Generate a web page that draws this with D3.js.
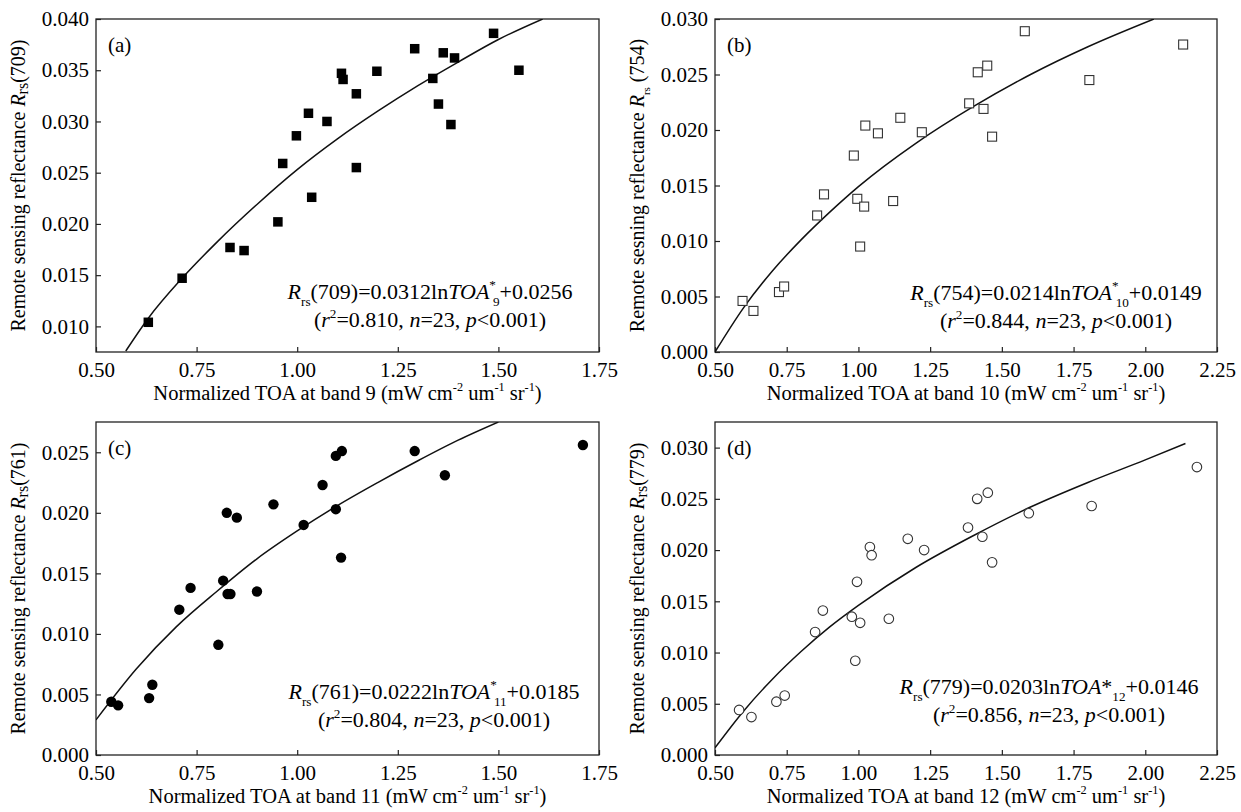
<!DOCTYPE html>
<html>
<head>
<meta charset="utf-8">
<script src="https://cdn.jsdelivr.net/npm/d3@7"></script>
<style>
  body { margin: 0; background: #fff; }
  svg { font-family: "Liberation Serif", "Times New Roman", serif; }
</style>
</head>
<body>
<svg id="chart" width="1241" height="812"></svg>
<script>

//  Panel (a): band 9 vs Rrs(709)
var xA = [0.630, 0.714, 0.833, 0.868, 0.952, 0.964, 0.998, 1.028, 1.036, 1.074, 1.110, 1.114,
          1.147, 1.147, 1.198, 1.292, 1.337, 1.351, 1.363, 1.382, 1.391, 1.488, 1.551];
var yA = [0.0104, 0.0147, 0.0177, 0.0174, 0.0202, 0.0259, 0.0286, 0.0308, 0.0226, 0.0300, 0.0347, 0.0341,
          0.0327, 0.0255, 0.0349, 0.0371, 0.0342, 0.0317, 0.0367, 0.0297, 0.0362, 0.0386, 0.0350];
var fitXA = [0.574, 0.63, 0.714, 0.80, 0.90, 1.00, 1.10, 1.20, 1.30, 1.40, 1.50, 1.61];
var fitYA = [0.0076, 0.0108, 0.0147, 0.0182, 0.0219, 0.0253, 0.0283, 0.0310, 0.0335, 0.0358, 0.0380, 0.0400];

//  Panel (b): band 10 vs Rrs(754)
var xB = [0.596, 0.634, 0.723, 0.741, 0.856, 0.880, 0.984, 0.996, 1.006, 1.020, 1.024, 1.068,
          1.121, 1.146, 1.221, 1.386, 1.416, 1.436, 1.449, 1.466, 1.580, 1.805, 2.132];
var yB = [0.0046, 0.0037, 0.0054, 0.0059, 0.0123, 0.0142, 0.0177, 0.0138, 0.0095, 0.0131, 0.0204, 0.0197,
          0.0136, 0.0211, 0.0198, 0.0224, 0.0252, 0.0219, 0.0258, 0.0194, 0.0289, 0.0245, 0.0277];
var fitXB = [0.50, 0.60, 0.70, 0.80, 0.90, 1.00, 1.20, 1.40, 1.60, 1.80, 2.03];
var fitYB = [0.0000, 0.0040, 0.0073, 0.0101, 0.0126, 0.0149, 0.0188, 0.0221, 0.0250, 0.0275, 0.0300];

//  Panel (c): band 11 vs Rrs(761)
var xC = [0.538, 0.555, 0.632, 0.640, 0.707, 0.735, 0.804, 0.816, 0.825, 0.827, 0.834, 0.850,
          0.900, 0.941, 1.016, 1.063, 1.096, 1.096, 1.109, 1.111, 1.292, 1.367, 1.710];
var yC = [0.0044, 0.0041, 0.0047, 0.0058, 0.0120, 0.0138, 0.0091, 0.0144, 0.0200, 0.0133, 0.0133, 0.0196,
          0.0135, 0.0207, 0.0190, 0.0223, 0.0203, 0.0247, 0.0163, 0.0251, 0.0251, 0.0231, 0.0256];
var fitXC = [0.50, 0.60, 0.70, 0.80, 0.90, 1.00, 1.10, 1.20, 1.30, 1.40, 1.50];
var fitYC = [0.0029, 0.0071, 0.0106, 0.0135, 0.0162, 0.0185, 0.0206, 0.0225, 0.0243, 0.0260, 0.0275];

//  Panel (d): band 12 vs Rrs(779)
var xD = [0.584, 0.627, 0.714, 0.743, 0.849, 0.876, 0.977, 0.989, 0.995, 1.006, 1.040, 1.046,
          1.106, 1.172, 1.229, 1.382, 1.414, 1.432, 1.451, 1.466, 1.594, 1.813, 2.180];
var yD = [0.0044, 0.0037, 0.0052, 0.0058, 0.0120, 0.0141, 0.0135, 0.0092, 0.0169, 0.0129, 0.0203, 0.0195,
          0.0133, 0.0211, 0.0200, 0.0222, 0.0250, 0.0213, 0.0256, 0.0188, 0.0236, 0.0243, 0.0281];
var fitXD = [0.50, 0.60, 0.70, 0.80, 0.90, 1.00, 1.20, 1.40, 1.60, 1.80, 2.00, 2.14];
var fitYD = [0.0007, 0.0043, 0.0074, 0.0101, 0.0125, 0.0146, 0.0183, 0.0214, 0.0242, 0.0266, 0.0288, 0.0304];

//  Tick values
var ticksX175 = [0.50, 0.75, 1.00, 1.25, 1.50, 1.75];
var ticksX225 = [0.50, 0.75, 1.00, 1.25, 1.50, 1.75, 2.00, 2.25];
var ticksYA = [0.010, 0.015, 0.020, 0.025, 0.030, 0.035, 0.040];
var ticksYB = [0.000, 0.005, 0.010, 0.015, 0.020, 0.025, 0.030];
var ticksYC = [0.000, 0.005, 0.010, 0.015, 0.020, 0.025];
var ticksYD = [0.000, 0.005, 0.010, 0.015, 0.020, 0.025, 0.030];

//  Text pieces: [text, italic, size factor, baseline shift (em), dx]
var eqFit = {
    a: [['R', 1], ['rs', 0, 0.6, 0.3], ['(709)=0.0312ln'], ['TOA', 1], ['*', 0, 0.6, -0.45], ['9', 0, 0.6, 0.3, -3], ['+0.0256']],
    b: [['R', 1], ['rs', 0, 0.6, 0.3], ['(754)=0.0214ln'], ['TOA', 1], ['*', 0, 0.6, -0.45], ['10', 0, 0.6, 0.3, -3], ['+0.0149']],
    c: [['R', 1], ['rs', 0, 0.6, 0.3], ['(761)=0.0222ln'], ['TOA', 1], ['*', 0, 0.6, -0.45], ['11', 0, 0.6, 0.3, -3], ['+0.0185']],
    d: [['R', 1], ['rs', 0, 0.6, 0.3], ['(779)=0.0203ln'], ['TOA', 1], ['*'], ['12', 0, 0.6, 0.3], ['+0.0146']]
};
var eqStats = {
    a: [['('], ['r', 1], ['2', 0, 0.6, -0.4], ['=0.810, '], ['n', 1], ['=23, '], ['p', 1], ['<0.001)']],
    b: [['('], ['r', 1], ['2', 0, 0.6, -0.4], ['=0.844, '], ['n', 1], ['=23, '], ['p', 1], ['<0.001)']],
    c: [['('], ['r', 1], ['2', 0, 0.6, -0.4], ['=0.804, '], ['n', 1], ['=23, '], ['p', 1], ['<0.001)']],
    d: [['('], ['r', 1], ['2', 0, 0.6, -0.4], ['=0.856, '], ['n', 1], ['=23, '], ['p', 1], ['<0.001)']]
};
var yTitles = {
    a: [['Remote sensing reflectance '], ['R', 1], ['rs', 0, 0.8, 0.15], ['(709)']],
    b: [['Remote sesning reflectance '], ['R', 1], ['rs', 0, 0.55, 0.3], [' (754)']],
    c: [['Remote sensing reflectance '], ['R', 1], ['rs', 0, 0.8, 0.15], ['(761)']],
    d: [['Remote sensing reflectance '], ['R', 1], ['rs', 0, 0.8, 0.15], ['(779)']]
};
function xTitle(band) {
    return [['Normalized TOA at band ' + band + ' (mW cm'], ['-2', 0, 0.6, -0.45], [' um'], ['-1', 0, 0.6, -0.45],
            [' sr'], ['-1', 0, 0.6, -0.45], [')']];
}

//  Panel layout
var panels = [
    { id: 'a', x: xA, y: yA, fx: fitXA, fy: fitYA, xmax: 1.75, ydom: [0.0075, 0.040], tx: ticksX175, ty: ticksYA,
      left: 96, right: 599, top: 19, bottom: 352, marker: 'square', fill: true, band: 9, eqX: 430, eqY: 299 },
    { id: 'b', x: xB, y: yB, fx: fitXB, fy: fitYB, xmax: 2.25, ydom: [0, 0.030], tx: ticksX225, ty: ticksYB,
      left: 715, right: 1217, top: 19, bottom: 352, marker: 'square', fill: false, band: 10, eqX: 1056, eqY: 300 },
    { id: 'c', x: xC, y: yC, fx: fitXC, fy: fitYC, xmax: 1.75, ydom: [0, 0.0275], tx: ticksX175, ty: ticksYC,
      left: 96, right: 599, top: 422, bottom: 755, marker: 'circle', fill: true, band: 11, eqX: 434, eqY: 699 },
    { id: 'd', x: xD, y: yD, fx: fitXD, fy: fitYD, xmax: 2.25, ydom: [0, 0.0325], tx: ticksX225, ty: ticksYD,
      left: 715, right: 1217, top: 422, bottom: 755, marker: 'circle', fill: false, band: 12, eqX: 1049, eqY: 694 }
];

var svg = d3.select('#chart');

//  Write a line of mixed italic / sub / superscript text
function rich(sel, pieces, size) {
    var prev = 0;
    pieces.forEach(function(p) {
        var shift = (p[3] || 0) * size;
        var t = sel.append('tspan')
            .text(p[0])
            .attr('dy', shift - prev)
            .style('font-size', (p[2] || 1) * size + 'px');
        if (p[1]) t.style('font-style', 'italic');
        if (p[4]) t.attr('dx', p[4]);
        prev = shift;
    });
}

function styleAxis(a) {
    a.select('.domain').remove();
    a.selectAll('line').attr('stroke', '#222').attr('stroke-width', 1.2);
    a.selectAll('text').attr('fill', '#000')
        .style('font-size', '21px')
        .style('font-family', '"Liberation Serif", "Times New Roman", serif');
}

panels.forEach(function(p) {

    var x = d3.scaleLinear().domain([0.5, p.xmax]).range([p.left, p.right]);
    var y = d3.scaleLinear().domain(p.ydom).range([p.bottom, p.top]);
    var g = svg.append('g');

    //  Axes, ticks pointing inward
    g.append('g')
        .attr('transform', 'translate(0,' + p.bottom + ')')
        .call(d3.axisBottom(x).tickValues(p.tx).tickSize(-5).tickPadding(10).tickFormat(d3.format('.2f')))
        .call(styleAxis);

    g.append('g')
        .attr('transform', 'translate(' + p.left + ',0)')
        .call(d3.axisLeft(y).tickValues(p.ty).tickSize(-5).tickPadding(7).tickFormat(d3.format('.3f')))
        .call(styleAxis);

    //  Frame
    g.append('rect')
        .attr('x', p.left).attr('y', p.top)
        .attr('width', p.right - p.left).attr('height', p.bottom - p.top)
        .attr('fill', 'none').attr('stroke', '#222').attr('stroke-width', 1.3);

    //  Fit curve, clipped to the frame
    g.append('clipPath').attr('id', 'clip-' + p.id)
        .append('rect')
        .attr('x', p.left).attr('y', p.top)
        .attr('width', p.right - p.left).attr('height', p.bottom - p.top);

    var line = d3.line()
        .x(function(d, i) { return x(p.fx[i]); })
        .y(function(d, i) { return y(p.fy[i]); })
        .curve(d3.curveMonotoneX);

    g.append('path')
        .datum(p.fx)
        .attr('clip-path', 'url(#clip-' + p.id + ')')
        .attr('d', line)
        .attr('fill', 'none').attr('stroke', '#111').attr('stroke-width', 1.5);

    //  Points
    var pts = g.append('g');
    p.x.forEach(function(xv, i) {
        var cx = x(xv), cy = y(p.y[i]);
        if (p.marker === 'square') {
            var s = p.fill ? 9.5 : 9;
            pts.append('rect')
                .attr('x', cx - s / 2).attr('y', cy - s / 2)
                .attr('width', s).attr('height', s)
                .attr('fill', p.fill ? '#000' : '#fff')
                .attr('stroke', p.fill ? 'none' : '#333').attr('stroke-width', 1.1);
        } else {
            pts.append('circle')
                .attr('cx', cx).attr('cy', cy)
                .attr('r', p.fill ? 5.2 : 4.8)
                .attr('fill', p.fill ? '#000' : '#fff')
                .attr('stroke', p.fill ? 'none' : '#333').attr('stroke-width', 1.1);
        }
    });

    //  Panel letter
    g.append('text')
        .attr('x', p.left + 12).attr('y', p.top + 33)
        .style('font-size', '21px')
        .text('(' + p.id + ')');

    //  Fit equation
    rich(g.append('text').attr('x', p.eqX).attr('y', p.eqY).attr('text-anchor', 'middle'), eqFit[p.id], 22);
    rich(g.append('text').attr('x', p.eqX).attr('y', p.eqY + 28).attr('text-anchor', 'middle'), eqStats[p.id], 22);

    //  Axis titles
    rich(g.append('text')
        .attr('x', (p.left + p.right) / 2).attr('y', p.bottom + 48)
        .attr('text-anchor', 'middle'), xTitle(p.band), 20.5);

    rich(g.append('text')
        .attr('transform', 'translate(' + (p.left - 71) + ',' + ((p.top + p.bottom) / 2) + ') rotate(-90)')
        .attr('text-anchor', 'middle'), yTitles[p.id], 20);
});

</script>
</body>
</html>
